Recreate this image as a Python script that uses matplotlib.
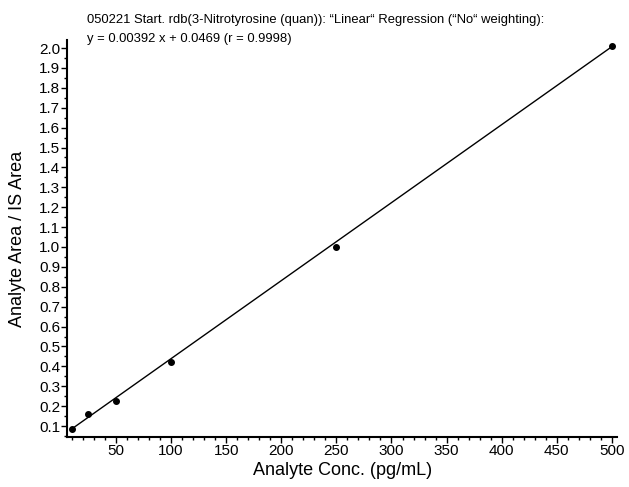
import numpy as np
import matplotlib.pyplot as plt
from matplotlib.ticker import MultipleLocator

plt.rcParams['font.family'] = ['Liberation Sans', 'DejaVu Sans']

# 検量線データ
conc = [10, 25, 50, 100, 250, 500]
ratio = [0.085, 0.16, 0.225, 0.42, 1.0, 2.01]
slope = 0.00392
intercept = 0.0469

title_lines = ['050221 Start. rdb(3-Nitrotyrosine (quan)): \u201cLinear\u201c Regression (\u201cNo\u201c weighting):',
               'y = 0.00392 x + 0.0469 (r = 0.9998)']

fig = plt.figure(figsize=(6.29, 4.87), dpi=100)
ax = fig.add_axes([0.1065, 0.1027, 0.875, 0.815])

x_line = np.array([conc[0], conc[-1]])
ax.plot(x_line, slope * x_line + intercept, color='black', linewidth=1.0)
ax.plot(conc, ratio, 'o', color='black', markersize=4)

ax.set_xlim(5.5, 505)
ax.set_ylim(0.045, 2.04)
ax.xaxis.set_minor_locator(MultipleLocator(10))
ax.yaxis.set_minor_locator(MultipleLocator(0.05))
ax.set_xticks(np.arange(50, 501, 50))
yt = np.round(np.arange(0.1, 2.01, 0.1), 1)
ax.set_yticks(yt)
ax.set_yticklabels([f'{v:.1f}' for v in yt])

for s in ['top', 'right']:
    ax.spines[s].set_visible(False)
for s in ['left', 'bottom']:
    ax.spines[s].set_linewidth(1.5)

ax.tick_params(which='major', direction='out', length=4, width=1, labelsize=11, pad=1)
ax.tick_params(which='minor', direction='out', length=2.5, width=1)

ax.set_xlabel('Analyte Conc. (pg/mL)', fontsize=13, labelpad=3)
ax.set_ylabel('Analyte Area / IS Area', fontsize=13, labelpad=9)

fig.text(0.138, 0.972, title_lines[0], fontsize=9.4, va='top', ha='left')
fig.text(0.138, 0.932, title_lines[1], fontsize=9.4, va='top', ha='left')

plt.savefig('out.png', dpi=100)
